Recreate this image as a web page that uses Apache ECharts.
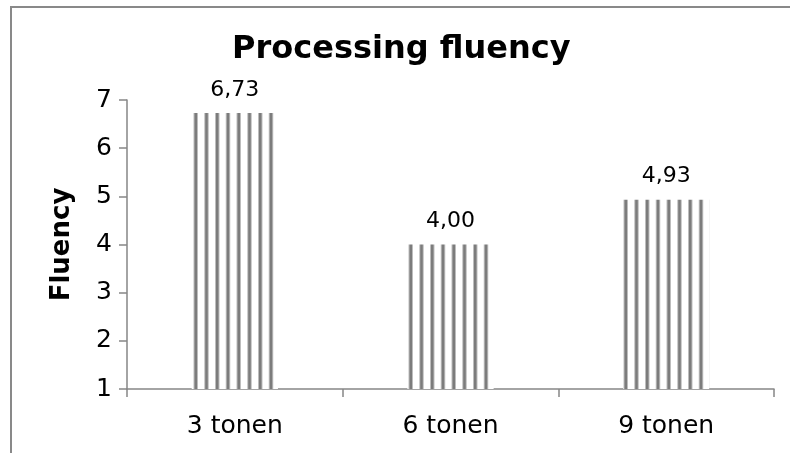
<!DOCTYPE html>
<html>
<head>
<meta charset="utf-8">
<script src="https://cdn.jsdelivr.net/npm/echarts@6/dist/echarts.min.js"></script>
<style>
html,body{margin:0;padding:0;background:#fff;}
#chart{width:790px;height:453px;}
</style>
</head>
<body>
<div id="chart"></div>
<script>
const categories = ['3 tonen', '6 tonen', '9 tonen'];
const fluency = [6.73, 4.00, 4.93];
const yTicks = [1, 2, 3, 4, 5, 6, 7];

function stripePattern() {
  const c = document.createElement('canvas');
  c.width = 43; c.height = 8;
  const ctx = c.getContext('2d');
  ctx.fillStyle = '#ffffff';
  ctx.fillRect(0, 0, 43, 8);
  for (let i = 0; i < 4; i++) {
    const x = i * 10.75;
    ctx.fillStyle = '#bdbdbd';
    ctx.fillRect(x, 0, 4.5, 8);
    ctx.fillStyle = '#7c7c7c';
    ctx.fillRect(x + 1, 0, 2.5, 8);
  }
  return c;
}

const chart = echarts.init(document.getElementById('chart'), null, {renderer: 'canvas'});
const FONT = 'DejaVu Sans';
chart.setOption({
  animation: false,
  backgroundColor: '#ffffff',
  title: {
    text: 'Processing fluency',
    left: 227,
    top: 29,
    textStyle: {fontFamily: FONT, fontWeight: 'bold', fontSize: 32, color: '#000'}
  },
  grid: {left: 127, right: 16, top: 100, bottom: 64, containLabel: false},
  xAxis: {
    type: 'category',
    data: categories,
    boundaryGap: true,
    axisLine: {lineStyle: {color: '#868686', width: 1.5}},
    axisTick: {show: true, length: 8, lineStyle: {color: '#868686', width: 1.5}},
    axisLabel: {fontFamily: FONT, fontSize: 25, color: '#000', margin: 25}
  },
  yAxis: {
    type: 'value',
    min: yTicks[0],
    max: yTicks[yTicks.length - 1],
    interval: 1,
    name: 'Fluency',
    nameLocation: 'middle',
    nameGap: 52,
    nameRotate: 90,
    nameTextStyle: {fontFamily: FONT, fontWeight: 'bold', fontSize: 26, color: '#000'},
    axisLine: {show: true, lineStyle: {color: '#868686', width: 1.5}},
    axisTick: {show: true, length: 8, lineStyle: {color: '#868686', width: 1.5}},
    axisLabel: {fontFamily: FONT, fontSize: 25, color: '#000', margin: 15},
    splitLine: {show: false}
  },
  series: [{
    type: 'bar',
    data: fluency,
    barWidth: '40%',
    itemStyle: {color: {image: stripePattern(), repeat: 'repeat'}},
    label: {
      show: true,
      position: 'top',
      distance: 12,
      fontFamily: FONT,
      fontSize: 22,
      color: '#000',
      formatter: p => p.value.toFixed(2).replace('.', ',')
    }
  }],
  graphic: [{
    type: 'rect',
    shape: {x: 11, y: 7, width: 900, height: 900},
    style: {fill: 'none', stroke: '#898989', lineWidth: 2},
    silent: true
  }]
});
</script>
</body>
</html>
